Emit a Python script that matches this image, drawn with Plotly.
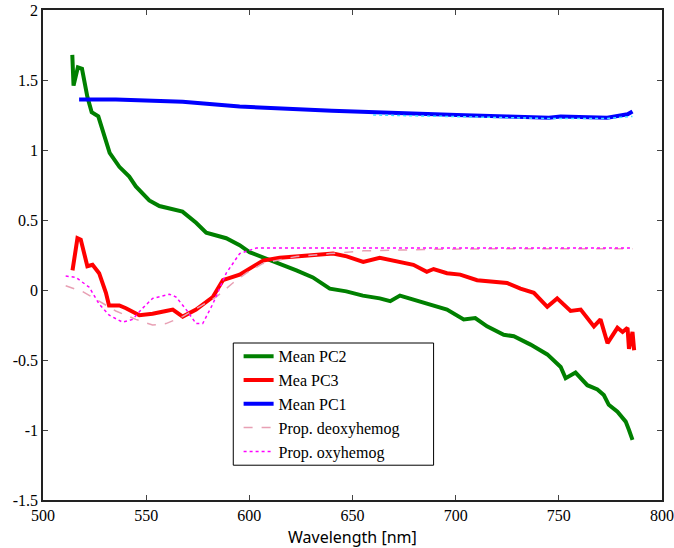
import plotly.graph_objects as go

# Mean PC2 (green)
pc2_x = [514.2, 514.8, 516.9, 518.9, 521.5, 523.6, 526.8, 532.3, 537.0, 541.8, 545.0, 551.5, 556.4,
         567.6, 574.2, 579.1, 588.8, 595.3, 600.1, 614.7, 622.8, 630.8, 639.0, 647.0, 655.0, 663.2,
         668.3, 673.0, 679.6, 687.7, 695.8, 703.9, 709.5, 715.2, 723.3, 728.2, 736.3, 744.4, 750.9,
         753.3, 758.1, 763.8, 768.7, 771.8, 774.2, 778.4, 782.4, 784.0, 785.7]
pc2_y = [1.68, 1.46, 1.59, 1.58, 1.38, 1.27, 1.24, 0.98, 0.88, 0.81, 0.74, 0.64, 0.60,
         0.56, 0.48, 0.41, 0.37, 0.32, 0.27, 0.19, 0.14, 0.09, 0.01, -0.01, -0.04, -0.06,
         -0.08, -0.04, -0.07, -0.11, -0.14, -0.21, -0.20, -0.26, -0.32, -0.33, -0.39, -0.46, -0.55,
         -0.63, -0.59, -0.68, -0.71, -0.75, -0.82, -0.87, -0.94, -1.00, -1.07]

# Mea PC3 (red)
pc3_x = [514.3, 516.7, 518.3, 521.5, 524.0, 527.2, 530.5, 532.0, 537.0, 540.2, 546.7, 553.1, 559.6,
         562.9, 567.7, 574.2, 582.3, 587.2, 595.3, 598.5, 606.6, 614.7, 622.8, 630.9, 640.6, 647.2,
         655.2, 663.2, 673.0, 679.5, 686.0, 689.3, 695.8, 702.2, 710.4, 716.8, 724.9, 731.4, 737.9,
         744.4, 749.2, 755.7, 760.6, 767.0, 770.2, 773.6, 778.4, 780.9, 783.3, 784.0, 785.7, 786.5]
pc3_y = [0.14, 0.37, 0.36, 0.17, 0.18, 0.12, -0.02, -0.11, -0.11, -0.13, -0.18, -0.17, -0.15,
         -0.14, -0.19, -0.14, -0.05, 0.07, 0.11, 0.14, 0.21, 0.23, 0.24, 0.25, 0.26, 0.24,
         0.20, 0.23, 0.20, 0.18, 0.13, 0.15, 0.12, 0.11, 0.07, 0.06, 0.05, 0.01, -0.02,
         -0.12, -0.06, -0.15, -0.14, -0.26, -0.21, -0.38, -0.27, -0.30, -0.27, -0.42, -0.30, -0.43]

# Mean PC1 (blue)
pc1_x = [517.5, 535.3, 567.7, 595.3, 640.0, 673.0, 700.6, 724.9, 745.2, 750.9, 773.5, 783.3, 785.7]
pc1_y = [1.36, 1.36, 1.345, 1.31, 1.28, 1.26, 1.25, 1.24, 1.23, 1.24, 1.23, 1.255, 1.275]

# cyan companion line under PC1 (not in legend)
cy_x = [660.0, 700.6, 724.9, 745.2, 773.5, 785.7]
cy_y = [1.25, 1.24, 1.23, 1.225, 1.225, 1.24]

# Prop. deoxyhemog (pink dashed)
deoxy_x = [511.0, 519.0, 527.2, 535.3, 545.0, 553.1, 559.6, 567.7, 575.8, 584.0, 592.0, 598.5,
           606.6, 622.8, 639.0, 655.2, 687.6, 720.0, 760.0, 785.7]
deoxy_y = [0.03, -0.01, -0.08, -0.15, -0.21, -0.25, -0.24, -0.19, -0.12, -0.05, 0.05, 0.12,
           0.19, 0.24, 0.26, 0.28, 0.29, 0.295, 0.295, 0.295]

# Prop. oxyhemog (magenta dotted)
oxy_x = [511.0, 515.9, 522.4, 527.2, 532.1, 538.6, 543.4, 548.3, 553.1, 561.3, 564.5, 569.4,
         574.2, 577.4, 582.3, 588.8, 595.3, 603.4, 660.0, 720.0, 785.7]
oxy_y = [0.10, 0.09, 0.02, -0.10, -0.18, -0.23, -0.21, -0.13, -0.06, -0.03, -0.05, -0.14,
         -0.24, -0.24, -0.10, 0.12, 0.26, 0.30, 0.30, 0.30, 0.30]

x_ticks = [500, 550, 600, 650, 700, 750, 800]
y_ticks = [2, 1.5, 1, 0.5, 0, -0.5, -1, -1.5]
y_tick_text = ["2", "1.5", "1", "0.5", "0", "-0.5", "-1", "-1.5"]

fig = go.Figure()
fig.add_trace(go.Scatter(x=pc2_x, y=pc2_y, mode="lines", name="Mean PC2",
                         line=dict(color="#008000", width=4)))
fig.add_trace(go.Scatter(x=pc3_x, y=pc3_y, mode="lines", name="Mea PC3",
                         line=dict(color="#FF0000", width=4)))
fig.add_trace(go.Scatter(x=pc1_x, y=pc1_y, mode="lines", name="Mean PC1",
                         line=dict(color="#0000FF", width=4)))
fig.add_trace(go.Scatter(x=cy_x, y=cy_y, mode="lines", showlegend=False,
                         line=dict(color="#40E0FF", width=1.5, dash="dot")))
fig.add_trace(go.Scatter(x=deoxy_x, y=deoxy_y, mode="lines", name="Prop. deoxyhemog",
                         line=dict(color="#E8A0B4", width=1.5, dash="dash")))
fig.add_trace(go.Scatter(x=oxy_x, y=oxy_y, mode="lines", name="Prop. oxyhemog",
                         line=dict(color="#FF00FF", width=1.5, dash="dot")))

tickfont = dict(family="Liberation Serif", size=16, color="#000000")
fig.update_layout(
    width=674, height=548,
    margin=dict(l=43, r=12, t=10, b=48),
    paper_bgcolor="white", plot_bgcolor="white",
    showlegend=True,
    legend=dict(x=0.316, y=0.328, xanchor="left", yanchor="top",
                bgcolor="rgba(0,0,0,0)", borderwidth=0,
                font=dict(family="Liberation Serif", size=16, color="#000000"),
                tracegroupgap=0),
    shapes=[dict(type="rect", xref="paper", yref="paper", x0=0.3074, x1=0.631,
                 y0=0.071, y1=0.3204, layer="above", fillcolor="white",
                 line=dict(color="#000000", width=1))],
    xaxis=dict(range=[500, 800], tickvals=x_ticks, ticks="inside", ticklen=5,
               showline=True, linecolor="#222222", linewidth=1.5, mirror="ticks",
               showgrid=False, zeroline=False, tickfont=tickfont, automargin=False),
    yaxis=dict(range=[-1.5, 2], tickvals=y_ticks, ticktext=y_tick_text, ticks="inside",
               ticklen=5, showline=True, linecolor="#222222", linewidth=1.5, mirror="ticks",
               showgrid=False, zeroline=False, tickfont=tickfont, automargin=False),
    annotations=[dict(text="Wavelength [nm]", xref="paper", yref="paper", x=0.5, y=0,
                      yshift=-37, xanchor="center", yanchor="middle", showarrow=False,
                      font=dict(family="Noto Sans", size=16, color="#000000"))],
)

fig.write_html("out.html", config={"displayModeBar": False},
               post_script="document.body.style.margin='0';")
